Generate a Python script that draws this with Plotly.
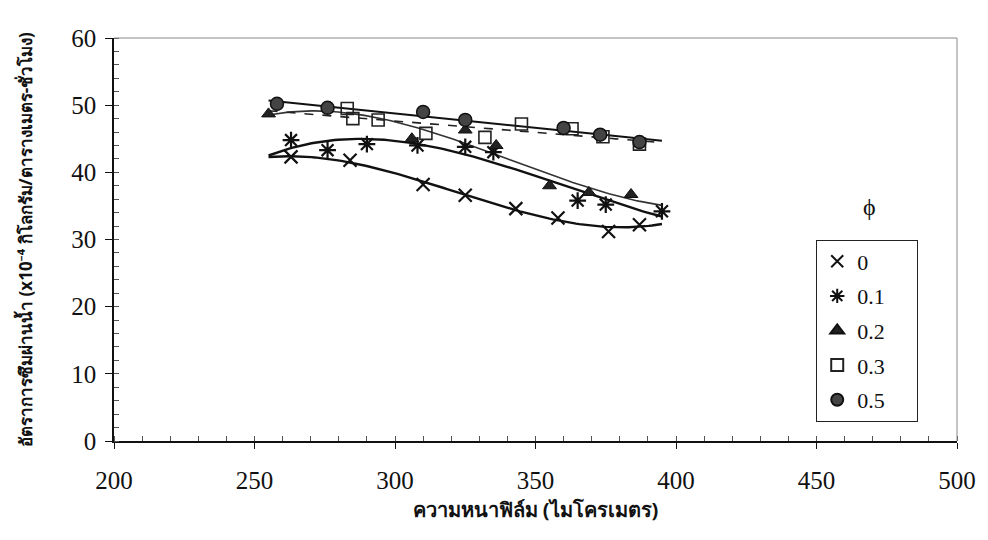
import numpy as np
import plotly.graph_objects as go

# ---- data ----
x_0 = [263, 284, 310, 325, 343, 358, 376, 387]
y_0 = [42.3, 41.8, 38.2, 36.6, 34.6, 33.2, 31.2, 32.2]

x_01 = [263, 276, 290, 308, 325, 335, 365, 375, 395]
y_01 = [44.8, 43.3, 44.2, 44.0, 43.8, 43.0, 35.8, 35.2, 34.2]

x_02 = [255, 306, 325, 336, 355, 369, 384]
y_02 = [48.7, 45.0, 46.3, 44.0, 38.0, 37.0, 36.7]

x_03 = [283, 285, 294, 311, 332, 345, 363, 374, 387]
y_03 = [49.5, 48.0, 47.8, 45.8, 45.2, 47.2, 46.5, 45.3, 44.2]

x_05 = [258, 276, 310, 325, 360, 373, 387]
y_05 = [50.2, 49.6, 49.0, 47.8, 46.6, 45.6, 44.5]

names = ["0", "0.1", "0.2", "0.3", "0.5"]
trend_order = [3, 3, 3, 1, 1]
trend_range = [255, 395]

x_ticks = [200, 250, 300, 350, 400, 450, 500]
y_ticks = [0, 10, 20, 30, 40, 50, 60]

x_title = "ความหนาฟิล์ม (ไมโครเมตร)"
y_title = "อัตราการซึมผ่านน้ำ (x10⁻⁴ กิโลกรัม/ตารางเมตร-ชั่วโมง)"
legend_symbol_title = "ϕ"

series = [(x_0, y_0), (x_01, y_01), (x_02, y_02), (x_03, y_03), (x_05, y_05)]

markers = [
    dict(symbol="x-thin-open", size=13, color="#111", line=dict(width=2.2, color="#111")),
    dict(symbol="asterisk-open", size=14, color="#111", line=dict(width=2.2, color="#111")),
    dict(symbol="triangle-up", size=12, color="#222", line=dict(width=1, color="#111")),
    dict(symbol="square-open", size=12, color="#222", line=dict(width=1.6, color="#222")),
    dict(symbol="circle", size=13, color="#444", line=dict(width=1.5, color="#111")),
]
trend_styles = [
    dict(color="#111", width=2.4, dash="solid"),
    dict(color="#111", width=2.4, dash="solid"),
    dict(color="#333", width=1.6, dash="solid"),
    dict(color="#222", width=1.6, dash="dash"),
    dict(color="#111", width=2.0, dash="solid"),
]

fig = go.Figure()

xs = np.linspace(trend_range[0], trend_range[1], 120)
for (xv, yv), order, st in zip(series, trend_order, trend_styles):
    c = np.polyfit(xv, yv, order)
    fig.add_trace(go.Scatter(x=xs, y=np.polyval(c, xs), mode="lines",
                             line=st, showlegend=False, hoverinfo="skip"))

pad = "\u00a0" * 5
for i, ((xv, yv), nm, mk) in enumerate(zip(series, names, markers)):
    fig.add_trace(go.Scatter(x=xv, y=yv, mode="markers", name=nm + pad, marker=mk,
                             legendgroup=nm))

serif = "Liberation Serif, Times New Roman, serif"
thai = "Noto Sans, sans-serif"

fig.update_layout(
    width=988, height=540,
    margin=dict(l=114, r=28, t=38, b=99),
    paper_bgcolor="white", plot_bgcolor="white",
    showlegend=True,
    legend=dict(x=0.833, y=0.50, xanchor="left", yanchor="top",
                bordercolor="#222", borderwidth=1, bgcolor="white",
                font=dict(family=serif, size=22, color="#111"),
                traceorder="grouped", tracegroupgap=3,
                itemwidth=30, itemsizing="constant"),
    annotations=[dict(text=legend_symbol_title, x=0.906, y=0.58, xref="paper", yref="paper",
                      showarrow=False, font=dict(family=serif, size=24, color="#111"))],
)

fig.update_xaxes(
    range=[200, 500], tickvals=x_ticks, ticktext=[str(v) for v in x_ticks],
    showline=True, linecolor="#111", linewidth=1.5, mirror=False,
    ticks="outside", ticklen=6, tickcolor="#111", ticklabelstandoff=10,
    minor=dict(dtick=10, ticks="inside", ticklen=5, tickcolor="#555"),
    showgrid=False, zeroline=False,
    tickfont=dict(family=serif, size=25, color="#111"),
    title=dict(text="<b>" + x_title + "</b>", font=dict(family=thai, size=20, color="#111"),
               standoff=10),
)
fig.update_yaxes(
    range=[0, 60], tickvals=y_ticks, ticktext=[str(v) for v in y_ticks],
    showline=True, linecolor="#111", linewidth=1.5, mirror=False,
    ticks="outside", ticklen=7, tickcolor="#111", ticklabelstandoff=4,
    minor=dict(dtick=2, ticks="inside", ticklen=5, tickcolor="#555"),
    showgrid=False, zeroline=False,
    tickfont=dict(family=serif, size=25, color="#111"),
    title=dict(text="<b>" + y_title + "</b>", font=dict(family=thai, size=17, color="#111"),
               standoff=34),
)

# light frame on top and right
fig.add_shape(type="line", xref="paper", yref="paper", x0=0, x1=1, y0=1, y1=1,
              line=dict(color="#888", width=1))
fig.add_shape(type="line", xref="paper", yref="paper", x0=1, x1=1, y0=0, y1=1,
              line=dict(color="#888", width=1))

fig.write_html("out.html")
